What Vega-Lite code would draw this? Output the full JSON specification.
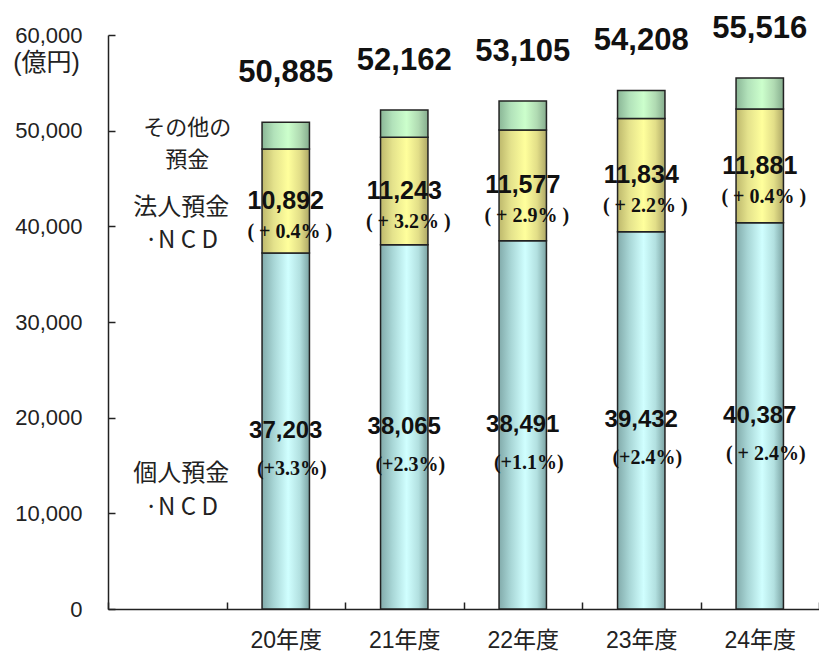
{
  "$schema": "https://vega.github.io/schema/vega-lite/v6.json",
  "width": 711,
  "height": 574,
  "autosize": {"type": "none"},
  "padding": {"left": 108, "top": 35, "right": 0, "bottom": 46},
  "background": "white",
  "config": {"view": {"stroke": null}, "font": "Liberation Sans, Noto Sans CJK JP"},
  "datasets": {
    "deposits": [
      {"year": "20年度", "segment": "Individual", "amount": 37203, "change": "(+3.3%)"},
      {"year": "20年度", "segment": "Juridical", "amount": 10892, "change": "( + 0.4% )"},
      {"year": "20年度", "segment": "Other", "amount": 2790, "change": ""},
      {"year": "21年度", "segment": "Individual", "amount": 38065, "change": "(+2.3%)"},
      {"year": "21年度", "segment": "Juridical", "amount": 11243, "change": "( + 3.2% )"},
      {"year": "21年度", "segment": "Other", "amount": 2854, "change": ""},
      {"year": "22年度", "segment": "Individual", "amount": 38491, "change": "(+1.1%)"},
      {"year": "22年度", "segment": "Juridical", "amount": 11577, "change": "( + 2.9% )"},
      {"year": "22年度", "segment": "Other", "amount": 3037, "change": ""},
      {"year": "23年度", "segment": "Individual", "amount": 39432, "change": "(+2.4%)"},
      {"year": "23年度", "segment": "Juridical", "amount": 11834, "change": "( + 2.2% )"},
      {"year": "23年度", "segment": "Other", "amount": 2942, "change": ""},
      {"year": "24年度", "segment": "Individual", "amount": 40387, "change": "( + 2.4%)"},
      {"year": "24年度", "segment": "Juridical", "amount": 11881, "change": "( + 0.4% )"},
      {"year": "24年度", "segment": "Other", "amount": 3248, "change": ""}
    ]
  },
  "data": {"name": "deposits"},
  "transform": [
    {"stack": "amount", "groupby": ["year"], "sort": [{"field": "segment", "order": "ascending"}], "as": ["lo", "hi"]}
  ],
  "layer": [
    {
      "transform": [{"filter": {"field": "segment", "equal": "Individual"}}],
      "mark": {
        "type": "bar",
        "width": {"band": 0.4},
        "stroke": "#222222",
        "strokeWidth": 1.5,
        "fill": {"gradient": "linear", "x1": 0, "y1": 0, "x2": 1, "y2": 0, "stops": [
          {"offset": 0, "color": "#82abab"},
          {"offset": 0.25, "color": "#a8d6d6"},
          {"offset": 0.55, "color": "#d0ffff"},
          {"offset": 0.8, "color": "#b2e0e0"},
          {"offset": 1, "color": "#7ba3a3"}
        ]}
      },
      "encoding": {
        "x": {
          "field": "year", "type": "nominal",
          "scale": {"domain": ["", "20年度", "21年度", "22年度", "23年度", "24年度"], "paddingInner": 0, "paddingOuter": 0},
          "axis": {
            "title": null, "labelAngle": 0, "labelFontSize": 23, "labelColor": "#222222",
            "labelFont": "Liberation Sans, Noto Sans CJK JP",
            "tickBand": "extent", "tickSize": -7, "tickColor": "#222222", "tickWidth": 1.5,
            "domainColor": "#222222", "domainWidth": 1.5, "labelPadding": 27
          }
        },
        "y": {
          "field": "hi", "type": "quantitative",
          "scale": {"domain": [0, 60000], "nice": false},
          "axis": {
            "values": [0, 10000, 20000, 30000, 40000, 50000, 60000], "format": ",d", "grid": false,
            "title": "(億円)", "titleAngle": 0, "titleX": -62, "titleY": 27, "titleAlign": "center",
            "titleBaseline": "middle", "titleFontSize": 25, "titleFontWeight": "normal", "titleColor": "#222222",
            "titleFont": "Liberation Sans, Noto Sans CJK JP",
            "labelFontSize": 22, "labelColor": "#222222", "labelPadding": 33,
            "tickSize": -7, "tickColor": "#222222", "tickWidth": 1.5,
            "domainColor": "#222222", "domainWidth": 1.5
          }
        },
        "y2": {"field": "lo"}
      }
    },
    {
      "transform": [{"filter": {"field": "segment", "equal": "Juridical"}}],
      "mark": {
        "type": "bar",
        "width": {"band": 0.4},
        "stroke": "#222222",
        "strokeWidth": 1.5,
        "fill": {"gradient": "linear", "x1": 0, "y1": 0, "x2": 1, "y2": 0, "stops": [
          {"offset": 0, "color": "#bdb86c"},
          {"offset": 0.25, "color": "#e4e28c"},
          {"offset": 0.55, "color": "#ffff9c"},
          {"offset": 0.8, "color": "#e2de88"},
          {"offset": 1, "color": "#aea866"}
        ]}
      },
      "encoding": {
        "x": {"field": "year", "type": "nominal"},
        "y": {"field": "hi", "type": "quantitative"},
        "y2": {"field": "lo"}
      }
    },
    {
      "transform": [{"filter": {"field": "segment", "equal": "Other"}}],
      "mark": {
        "type": "bar",
        "width": {"band": 0.4},
        "stroke": "#222222",
        "strokeWidth": 1.5,
        "fill": {"gradient": "linear", "x1": 0, "y1": 0, "x2": 1, "y2": 0, "stops": [
          {"offset": 0, "color": "#8ab696"},
          {"offset": 0.25, "color": "#b2e2ba"},
          {"offset": 0.55, "color": "#ccffcc"},
          {"offset": 0.8, "color": "#b0dab2"},
          {"offset": 1, "color": "#86ad8e"}
        ]}
      },
      "encoding": {
        "x": {"field": "year", "type": "nominal"},
        "y": {"field": "hi", "type": "quantitative"},
        "y2": {"field": "lo"}
      }
    },
    {
      "transform": [{"aggregate": [{"op": "sum", "field": "amount", "as": "total"}], "groupby": ["year"]}],
      "mark": {"type": "text", "fontSize": 31, "fontWeight": "bold", "baseline": "alphabetic", "align": "center", "dy": -40, "color": "#111111", "font": "Liberation Sans"},
      "encoding": {
        "x": {"field": "year", "type": "nominal"},
        "y": {"field": "total", "type": "quantitative"},
        "text": {"field": "total", "type": "quantitative", "format": ",d"}
      }
    },
    {
      "transform": [
        {"filter": {"field": "segment", "equal": "Individual"}},
        {"fold": ["lo", "hi"], "as": ["edge", "pos"]},
        {"aggregate": [{"op": "mean", "field": "pos", "as": "mid"}], "groupby": ["year", "amount", "change"]}
      ],
      "layer": [
        {
          "mark": {"type": "text", "fontSize": 24, "fontWeight": "bold", "baseline": "middle", "align": "center", "color": "#111111", "font": "Liberation Sans"},
          "encoding": {
            "x": {"field": "year", "type": "nominal"},
            "y": {"field": "mid", "type": "quantitative"},
            "text": {"field": "amount", "type": "quantitative", "format": ",d"}
          }
        },
        {
          "mark": {"type": "text", "fontSize": 20, "fontWeight": "bold", "baseline": "middle", "align": "center", "dx": 6, "dy": 38, "color": "#111111", "font": "Liberation Serif"},
          "encoding": {
            "x": {"field": "year", "type": "nominal"},
            "y": {"field": "mid", "type": "quantitative"},
            "text": {"field": "change", "type": "nominal"}
          }
        }
      ]
    },
    {
      "transform": [
        {"filter": {"field": "segment", "equal": "Juridical"}},
        {"fold": ["lo", "hi"], "as": ["edge", "pos"]},
        {"aggregate": [{"op": "mean", "field": "pos", "as": "mid"}], "groupby": ["year", "amount", "change"]}
      ],
      "layer": [
        {
          "mark": {"type": "text", "fontSize": 25, "fontWeight": "bold", "baseline": "middle", "align": "center", "color": "#111111", "font": "Liberation Sans"},
          "encoding": {
            "x": {"field": "year", "type": "nominal"},
            "y": {"field": "mid", "type": "quantitative"},
            "text": {"field": "amount", "type": "quantitative", "format": ",d"}
          }
        },
        {
          "mark": {"type": "text", "fontSize": 20, "fontWeight": "bold", "baseline": "middle", "align": "center", "dx": 4, "dy": 31, "color": "#111111", "font": "Liberation Serif"},
          "encoding": {
            "x": {"field": "year", "type": "nominal"},
            "y": {"field": "mid", "type": "quantitative"},
            "text": {"field": "change", "type": "nominal"}
          }
        }
      ]
    },
    {
      "data": {"values": [{"note": "その他の"}]},
      "mark": {"type": "text", "fontSize": 22, "dx": 20, "align": "center", "baseline": "middle", "font": "Noto Sans CJK JP", "color": "#222222"},
      "encoding": {"x": {"datum": ""}, "y": {"datum": 50279}, "text": {"field": "note"}}
    },
    {
      "data": {"values": [{"note": "預金"}]},
      "mark": {"type": "text", "fontSize": 22, "dx": 20, "align": "center", "baseline": "middle", "font": "Noto Sans CJK JP", "color": "#222222"},
      "encoding": {"x": {"datum": ""}, "y": {"datum": 46934}, "text": {"field": "note"}}
    },
    {
      "data": {"values": [{"note": "法人預金\n·N C D"}]},
      "mark": {"type": "text", "fontSize": 24, "lineHeight": 33, "lineBreak": "\n", "dx": 14, "align": "center", "baseline": "middle", "font": "Noto Sans CJK JP", "color": "#222222"},
      "encoding": {"x": {"datum": ""}, "y": {"datum": 41917}, "text": {"field": "note"}}
    },
    {
      "data": {"values": [{"note": "個人預金\n·N C D"}]},
      "mark": {"type": "text", "fontSize": 24, "lineHeight": 34, "lineBreak": "\n", "dx": 14, "align": "center", "baseline": "middle", "font": "Noto Sans CJK JP", "color": "#222222"},
      "encoding": {"x": {"datum": ""}, "y": {"datum": 14112}, "text": {"field": "note"}}
    }
  ]
}
